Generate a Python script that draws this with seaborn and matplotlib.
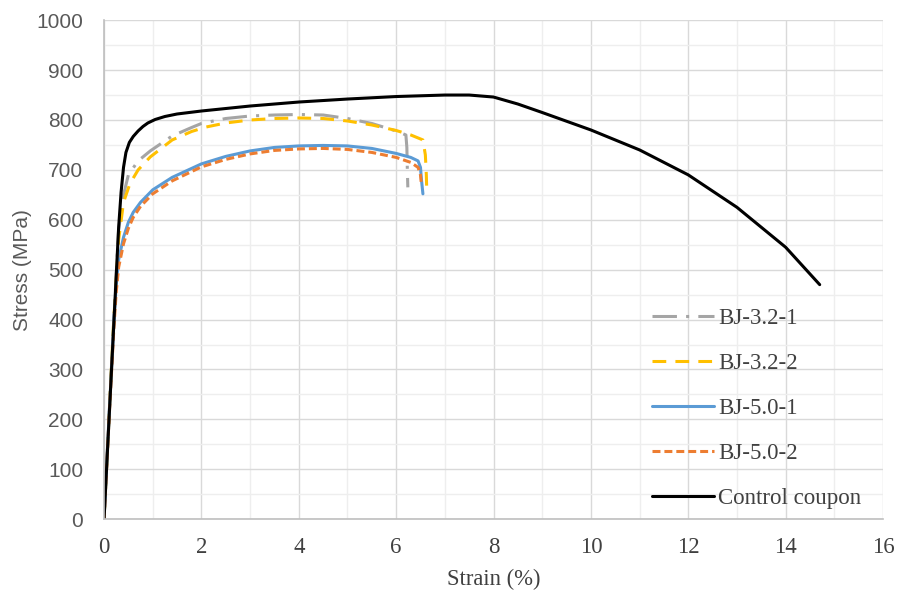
import matplotlib
matplotlib.use("Agg")
import matplotlib.pyplot as plt
import seaborn as sns
import pandas as pd
from matplotlib.ticker import MultipleLocator

# ---- data (strain %, stress MPa) ----
bj321_strain = [0, 0.1, 0.2, 0.3, 0.4, 0.5, 0.7, 0.95, 1.4, 1.8, 2.0, 2.5, 3.0, 3.5, 4.0, 4.5, 5.0, 5.5, 6.0, 6.2, 6.22, 6.23, 6.24]
bj321_stress = [0, 200, 400, 580, 650, 690, 718, 738, 768, 785, 793, 803, 808, 810, 811, 810, 803, 793, 778, 770, 745, 700, 665]

bj322_strain = [0, 0.1, 0.2, 0.3, 0.4, 0.53, 0.7, 0.95, 1.4, 1.8, 2.1, 2.5, 3.0, 3.5, 4.0, 4.5, 5.0, 5.5, 6.0, 6.3, 6.55, 6.6, 6.62, 6.63]
bj322_stress = [0, 200, 400, 560, 635, 672, 700, 726, 760, 777, 786, 794, 800, 803, 804, 803, 798, 790, 779, 770, 760, 730, 690, 655]

bj501_strain = [0, 0.1, 0.2, 0.25, 0.3, 0.4, 0.5, 0.6, 0.75, 1.0, 1.4, 2.0, 2.5, 3.0, 3.5, 4.0, 4.5, 5.0, 5.5, 6.0, 6.3, 6.45, 6.5, 6.52, 6.55]
bj501_stress = [0, 200, 390, 470, 520, 565, 595, 615, 635, 660, 685, 712, 727, 738, 745, 748, 749, 748, 743, 733, 725, 718, 705, 680, 652]

bj502_strain = [0, 0.1, 0.2, 0.25, 0.3, 0.4, 0.5, 0.6, 0.75, 1.0, 1.4, 2.0, 2.5, 3.0, 3.5, 4.0, 4.5, 5.0, 5.5, 6.0, 6.3, 6.45, 6.5, 6.52]
bj502_stress = [0, 195, 380, 455, 505, 552, 583, 605, 627, 652, 678, 706, 721, 732, 739, 742, 743, 741, 735, 725, 715, 705, 690, 670]

ctrl_strain = [0, 0.1, 0.2, 0.3, 0.35, 0.4, 0.45, 0.52, 0.6, 0.7, 0.8, 0.9, 1.05, 1.25, 1.5, 2.0, 3.0, 4.0, 5.0, 6.0, 7.0, 7.5, 8.0, 8.5, 9.0, 10.0, 11.0, 12.0, 13.0, 14.0, 14.7]
ctrl_stress = [0, 195, 390, 585, 655, 705, 735, 755, 767, 778, 787, 794, 801, 807, 812, 818, 828, 836, 842, 847, 850, 850, 846, 832, 815, 780, 740, 690, 625, 545, 470]

labels = ["BJ-3.2-1", "BJ-3.2-2", "BJ-5.0-1", "BJ-5.0-2", "Control coupon"]
x_ticks = [0, 2, 4, 6, 8, 10, 12, 14, 16]
y_ticks = [0, 100, 200, 300, 400, 500, 600, 700, 800, 900, 1000]

sns.set_style("white")

fig = plt.figure(figsize=(9, 5.94), dpi=100)
ax = fig.add_axes([0.1156, 0.126, 0.8655, 0.840])

series = [
    (bj321_strain, bj321_stress, labels[0], "#A5A5A5", (0, (8, 3, 1, 3))),
    (bj322_strain, bj322_stress, labels[1], "#FFC000", (0, (4.5, 3))),
    (bj501_strain, bj501_stress, labels[2], "#5B9BD5", "-"),
    (bj502_strain, bj502_stress, labels[3], "#ED7D31", (0, (2.6, 1.3))),
    (ctrl_strain, ctrl_stress, labels[4], "#000000", "-"),
]
for xs, ys, lab, col, ls in series:
    df = pd.DataFrame({"strain": xs, "stress": ys})
    sns.lineplot(data=df, x="strain", y="stress", ax=ax, sort=False, estimator=None,
                 color=col, linewidth=2.2, linestyle=ls, label=lab)

ax.set_xlim(0, 16)
ax.set_ylim(0, 1000)
ax.set_xticks(x_ticks)
ax.set_yticks(y_ticks)
ax.xaxis.set_minor_locator(MultipleLocator(1))
ax.yaxis.set_minor_locator(MultipleLocator(50))
ax.grid(which="major", color="#D9D9D9", linewidth=1.0)
ax.grid(which="minor", color="#EEEEEE", linewidth=1.0)
ax.set_axisbelow(True)

for s in ["top", "right"]:
    ax.spines[s].set_visible(False)
for s in ["left", "bottom"]:
    ax.spines[s].set_color("#BFBFBF")
    ax.spines[s].set_linewidth(1.2)

ax.tick_params(axis="both", which="major", direction="out", length=5, color="#BFBFBF", width=1.0)
ax.tick_params(axis="both", which="minor", length=0)
ax.tick_params(axis="x", pad=8)
ax.tick_params(axis="y", pad=10)

ax.set_xticklabels([str(t) for t in x_ticks], fontfamily="Liberation Serif", fontsize=16.5, color="#404040")
ax.set_yticklabels([str(t) for t in y_ticks], fontfamily="Liberation Sans", fontsize=15, color="#595959")

ax.set_xlabel("Strain (%)", fontfamily="Liberation Serif", fontsize=16.3, color="#404040", labelpad=8)
ax.set_ylabel("Stress (MPa)", fontfamily="Liberation Sans", fontsize=15, color="#595959", labelpad=8)
ax.yaxis.set_label_coords(-0.093, 0.5)

leg = ax.legend(loc="lower left", bbox_to_anchor=(0.703, 0.02), frameon=False,
                prop={"family": "Liberation Serif", "size": 16.5},
                handlelength=2.7, handletextpad=0.2, labelspacing=1.05,
                borderaxespad=0, borderpad=0)
for t in leg.get_texts():
    t.set_color("#404040")

fig.savefig("out.png", dpi=100)
